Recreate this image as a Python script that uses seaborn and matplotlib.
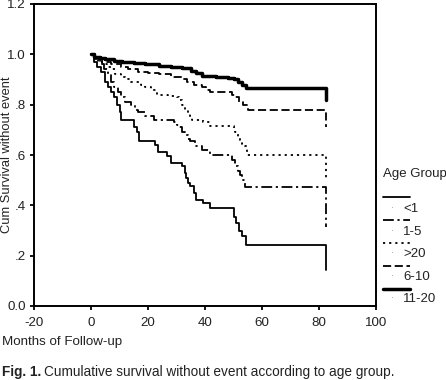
import numpy as np
import pandas as pd
import matplotlib
matplotlib.use("Agg")
import matplotlib.pyplot as plt
from matplotlib.lines import Line2D
import seaborn as sns

# ---------------- data ----------------
groups = ["<1", "1-5", ">20", "6-10", "11-20"]

t_lt1 = [0, 1, 2, 3.5, 5, 6, 7, 8, 9, 10, 10.7, 15, 16, 17, 22.5, 23.5, 26.5, 28, 32, 33,
         33.5, 34.2, 34.7, 36, 37, 39.4, 41.8, 50, 51, 52, 53, 54.5, 82.5]
s_lt1 = [1.0, 0.97, 0.95, 0.93, 0.89, 0.87, 0.85, 0.83, 0.80, 0.77, 0.74, 0.71, 0.69, 0.655,
         0.64, 0.61, 0.595, 0.57, 0.555, 0.53, 0.51, 0.49, 0.475, 0.45, 0.42, 0.41, 0.39,
         0.355, 0.33, 0.30, 0.28, 0.243, 0.143]

t_1_5 = [0, 1.5, 3, 4.5, 6, 7, 8, 9.5, 10.5, 12, 14, 15.5, 16.5, 19, 22, 29, 30, 31, 32, 33,
         34, 34.7, 36.5, 39, 41.8, 49.5, 50.5, 51.5, 52.3, 53, 54, 82.5]
s_1_5 = [1.0, 0.98, 0.96, 0.94, 0.92, 0.89, 0.87, 0.85, 0.83, 0.81, 0.80, 0.78, 0.77, 0.755,
         0.74, 0.73, 0.72, 0.71, 0.69, 0.68, 0.665, 0.655, 0.635, 0.62, 0.60, 0.58, 0.555,
         0.535, 0.52, 0.50, 0.474, 0.315]

t_gt20 = [0, 1, 2.5, 4, 5.5, 7, 8.5, 10.5, 12, 14, 17.5, 19, 21, 23, 27, 30, 31, 32, 33, 34,
          34.7, 35.5, 39.4, 41.8, 50, 50.5, 51.5, 52.3, 53, 54, 54.7, 82.5]
s_gt20 = [1.0, 0.985, 0.97, 0.96, 0.95, 0.94, 0.92, 0.91, 0.90, 0.89, 0.88, 0.87, 0.86, 0.84,
          0.835, 0.83, 0.82, 0.80, 0.78, 0.765, 0.75, 0.74, 0.73, 0.715, 0.70, 0.69, 0.67,
          0.66, 0.645, 0.635, 0.60, 0.50]

t_6_10 = [0, 1, 2.5, 4, 7, 10.5, 13, 16.5, 20, 24, 28, 32, 33.6, 36, 39, 40.5, 41.8, 49.5,
          50.5, 52, 53.5, 55, 82.5]
s_6_10 = [1.0, 0.99, 0.98, 0.97, 0.96, 0.95, 0.94, 0.93, 0.925, 0.92, 0.91, 0.90, 0.89, 0.88,
          0.87, 0.86, 0.85, 0.84, 0.83, 0.81, 0.80, 0.78, 0.71]

t_11_20 = [0, 1, 3, 5, 8, 11, 15, 19, 24, 28, 32, 35, 37, 39, 44, 48, 50, 51.5, 53, 54.5, 82.5]
s_11_20 = [1.0, 0.99, 0.985, 0.98, 0.975, 0.97, 0.965, 0.96, 0.955, 0.95, 0.945, 0.935, 0.925,
           0.915, 0.91, 0.905, 0.90, 0.89, 0.88, 0.867, 0.818]

x_ticks = [-20, 0, 20, 40, 60, 80, 100]
y_ticks = [0.0, 0.2, 0.4, 0.6, 0.8, 1.0, 1.2]
y_tick_labels = ["0.0", ".2", ".4", ".6", ".8", "1.0", "1.2"]

times = [t_lt1, t_1_5, t_gt20, t_6_10, t_11_20]
survs = [s_lt1, s_1_5, s_gt20, s_6_10, s_11_20]

df = pd.concat([pd.DataFrame({"Months": t, "Survival": s, "Age Group": g})
                for g, t, s in zip(groups, times, survs)], ignore_index=True)

# ---------------- styles ----------------
styles = {
    "<1":    dict(lw=1.3, ls="solid"),
    "1-5":   dict(lw=1.3, ls=(0, (6.0, 2.0, 1.2, 2.0))),
    ">20":   dict(lw=1.3, ls=(0, (1.2, 2.2))),
    "6-10":  dict(lw=1.3, ls=(0, (4.5, 2.0))),
    "11-20": dict(lw=2.5, ls="solid"),
}

sns.set_theme(style="ticks")
plt.rcParams["font.family"] = ["Liberation Sans", "DejaVu Sans"]

W, H = 446, 380
fig = plt.figure(figsize=(W / 100, H / 100), dpi=100)

def fx(px):
    return px / W

def fy(py):
    return 1 - py / H

ax = fig.add_axes([fx(34), fy(306), fx(376) - fx(34), fy(4) - fy(306)])

for g in groups:
    sub = df[df["Age Group"] == g]
    sns.lineplot(data=sub, x="Months", y="Survival", ax=ax, color="black",
                 estimator=None, sort=False, drawstyle="steps-post",
                 linewidth=styles[g]["lw"], linestyle=styles[g]["ls"],
                 legend=False)

ax.set_xlim(-20, 100)
ax.set_ylim(0, 1.2)
ax.set_xticks(x_ticks)
ax.set_xticklabels([str(v) for v in x_ticks])
ax.set_yticks(y_ticks)
ax.set_yticklabels(y_tick_labels)
ax.tick_params(axis="both", direction="out", length=3, width=1.3, colors="black",
               labelsize=9.6, labelcolor="#222222")
ax.tick_params(axis="x", pad=5)
ax.tick_params(axis="y", pad=3)
for sp in ax.spines.values():
    sp.set_visible(True)
    sp.set_color("black")
    sp.set_linewidth(1.4)

ax.set_xlabel("")
ax.set_ylabel("Cum Survival without event", fontsize=9.3, color="#222222")
ax.yaxis.set_label_coords((13.5 - 34) / (376 - 34), 0.5)

fig.text(fx(2), fy(342), "Months of Follow-up", fontsize=9.6, color="#222222",
         ha="left", va="center")

# legend drawn manually to mimic the SPSS layout
fig.text(fx(383), fy(174), "Age Group", fontsize=9.5, color="#222222", ha="left", va="center")
line_y = [197, 220, 243, 266, 289]
label_y = [209, 232, 254, 277, 299]
for g, ly, ty in zip(groups, line_y, label_y):
    fig.add_artist(Line2D([fx(383), fx(410)], [fy(ly), fy(ly)], transform=fig.transFigure,
                          color="black", linewidth=styles[g]["lw"], linestyle=styles[g]["ls"]))
    fig.text(fx(392), fy(ty), "·", fontsize=6, color="#888888", ha="center", va="center")
    fig.text(fx(403), fy(ty), g, fontsize=9.5, color="#222222", ha="left", va="center")

# caption with bold figure number
t1 = fig.text(fx(2), fy(372), "Fig. 1.", fontsize=9.8, fontweight="bold", color="#222222",
              ha="left", va="center")
fig.canvas.draw()
bb = t1.get_window_extent(renderer=fig.canvas.get_renderer())
fig.text(bb.x1 / W + fx(3), fy(372), "Cumulative survival without event according to age group.",
         fontsize=9.8, color="#222222", ha="left", va="center")

fig.savefig("out.png", dpi=100)
